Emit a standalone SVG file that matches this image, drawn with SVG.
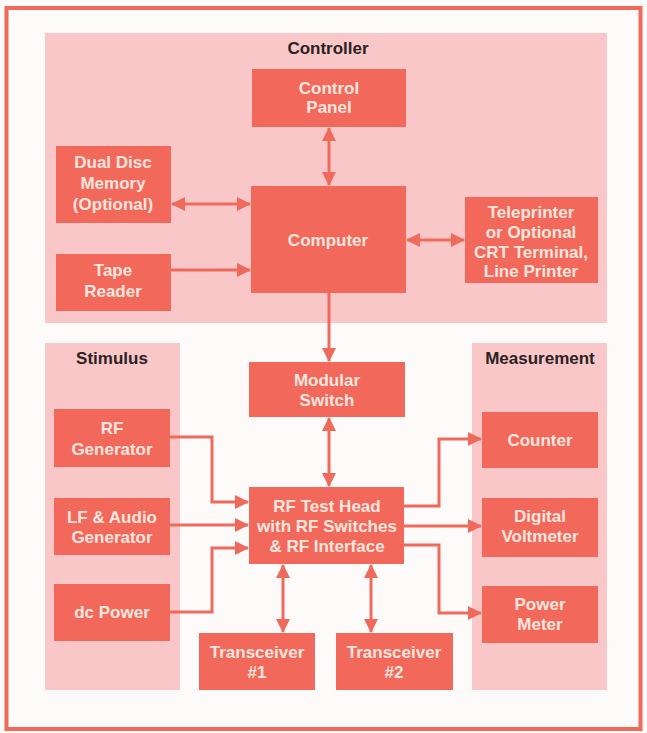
<svg xmlns="http://www.w3.org/2000/svg" width="647" height="733" viewBox="0 0 647 733">
  <defs>
    <marker id="ah" viewBox="0 0 14 14" refX="13" refY="7" markerWidth="14" markerHeight="14" markerUnits="userSpaceOnUse" orient="auto-start-reverse">
      <path d="M0,0 L14,7 L0,14 Z" fill="#f06a5c"/>
    </marker>
    <style>
      .panel { fill: #f9c7c7; }
      .box { fill: #f2695b; }
      .lbl { font-family: "Liberation Sans", Arial, sans-serif; font-weight: bold; font-size: 17px; fill: #fde6df; text-anchor: middle; }
      .title { font-family: "Liberation Sans", Arial, sans-serif; font-weight: bold; font-size: 17px; fill: #2b2222; text-anchor: middle; }
      .wire { fill: none; stroke: #f06a5c; stroke-width: 3; }
    </style>
  </defs>

  <rect x="0" y="0" width="647" height="733" fill="#fdfafa"/>
  <!-- outer frame -->
  <rect x="6.5" y="8" width="634" height="721" fill="none" stroke="#ef6a58" stroke-width="4"/>

  <!-- group panels -->
  <g id="controller">
    <rect class="panel" x="45" y="33" width="562" height="290"/>
    <text class="title" x="328" y="54">Controller</text>
  </g>
  <g id="stimulus">
    <rect class="panel" x="45" y="343" width="135" height="347"/>
    <text class="title" x="112" y="364">Stimulus</text>
  </g>
  <g id="measurement">
    <rect class="panel" x="472" y="343" width="135" height="347"/>
    <text class="title" x="540" y="364">Measurement</text>
  </g>

  <!-- connectors -->
  <g id="connectors">
    <path class="wire" d="M329,128 V185" marker-start="url(#ah)" marker-end="url(#ah)"/>
    <path class="wire" d="M172,204 H250" marker-start="url(#ah)" marker-end="url(#ah)"/>
    <path class="wire" d="M171,270 H250" marker-end="url(#ah)"/>
    <path class="wire" d="M407,240 H464" marker-start="url(#ah)" marker-end="url(#ah)"/>
    <path class="wire" d="M329,293 V361" marker-end="url(#ah)"/>
    <path class="wire" d="M329,418 V486" marker-start="url(#ah)" marker-end="url(#ah)"/>
    <path class="wire" d="M170,437 H212 V502 H248" marker-end="url(#ah)"/>
    <path class="wire" d="M170,525 H248" marker-end="url(#ah)"/>
    <path class="wire" d="M170,612 H212 V548 H248" marker-end="url(#ah)"/>
    <path class="wire" d="M404,506 H439 V439 H481" marker-end="url(#ah)"/>
    <path class="wire" d="M404,526 H481" marker-end="url(#ah)"/>
    <path class="wire" d="M404,545 H439 V613 H481" marker-end="url(#ah)"/>
    <path class="wire" d="M283,565 V632" marker-start="url(#ah)" marker-end="url(#ah)"/>
    <path class="wire" d="M371,565 V632" marker-start="url(#ah)" marker-end="url(#ah)"/>
  </g>

  <!-- nodes -->
  <g id="control-panel">
    <rect class="box" x="252" y="69" width="154" height="58"/>
    <text class="lbl" x="329" y="94">Control</text>
    <text class="lbl" x="329" y="113">Panel</text>
  </g>
  <g id="dual-disc">
    <rect class="box" x="56" y="146" width="115" height="77"/>
    <text class="lbl" x="113" y="168">Dual Disc</text>
    <text class="lbl" x="113" y="189">Memory</text>
    <text class="lbl" x="113" y="210">(Optional)</text>
  </g>
  <g id="computer">
    <rect class="box" x="251" y="186" width="155" height="107"/>
    <text class="lbl" x="328" y="246">Computer</text>
  </g>
  <g id="tape-reader">
    <rect class="box" x="56" y="254" width="115" height="57"/>
    <text class="lbl" x="113" y="276">Tape</text>
    <text class="lbl" x="113" y="297">Reader</text>
  </g>
  <g id="teleprinter">
    <rect class="box" x="465" y="197" width="133" height="86"/>
    <text class="lbl" x="531" y="218">Teleprinter</text>
    <text class="lbl" x="531" y="238">or Optional</text>
    <text class="lbl" x="531" y="258">CRT Terminal,</text>
    <text class="lbl" x="531" y="277">Line Printer</text>
  </g>
  <g id="modular-switch">
    <rect class="box" x="249" y="362" width="156" height="55"/>
    <text class="lbl" x="327" y="386">Modular</text>
    <text class="lbl" x="327" y="406">Switch</text>
  </g>
  <g id="rf-generator">
    <rect class="box" x="54" y="409" width="116" height="58"/>
    <text class="lbl" x="112" y="434">RF</text>
    <text class="lbl" x="112" y="455">Generator</text>
  </g>
  <g id="lf-audio-generator">
    <rect class="box" x="54" y="498" width="116" height="57"/>
    <text class="lbl" x="112" y="523">LF &amp; Audio</text>
    <text class="lbl" x="112" y="543">Generator</text>
  </g>
  <g id="dc-power">
    <rect class="box" x="54" y="584" width="116" height="57"/>
    <text class="lbl" x="112" y="618">dc Power</text>
  </g>
  <g id="rf-test-head">
    <rect class="box" x="249" y="487" width="155" height="77"/>
    <text class="lbl" x="327" y="512">RF Test Head</text>
    <text class="lbl" x="327" y="532">with RF Switches</text>
    <text class="lbl" x="327" y="552">&amp; RF Interface</text>
  </g>
  <g id="counter">
    <rect class="box" x="482" y="412" width="116" height="56"/>
    <text class="lbl" x="540" y="446">Counter</text>
  </g>
  <g id="digital-voltmeter">
    <rect class="box" x="482" y="498" width="116" height="59"/>
    <text class="lbl" x="540" y="522">Digital</text>
    <text class="lbl" x="540" y="542">Voltmeter</text>
  </g>
  <g id="power-meter">
    <rect class="box" x="482" y="586" width="116" height="57"/>
    <text class="lbl" x="540" y="610">Power</text>
    <text class="lbl" x="540" y="630">Meter</text>
  </g>
  <g id="transceiver-1">
    <rect class="box" x="199" y="633" width="116" height="57"/>
    <text class="lbl" x="257" y="658">Transceiver</text>
    <text class="lbl" x="257" y="678">#1</text>
  </g>
  <g id="transceiver-2">
    <rect class="box" x="336" y="633" width="117" height="57"/>
    <text class="lbl" x="394" y="658">Transceiver</text>
    <text class="lbl" x="394" y="678">#2</text>
  </g>
</svg>
